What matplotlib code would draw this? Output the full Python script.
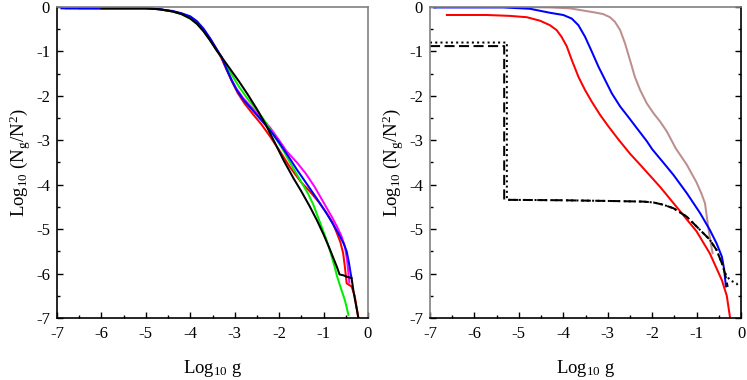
import matplotlib
matplotlib.use("Agg")
import matplotlib.pyplot as plt
from matplotlib.ticker import MultipleLocator

plt.rcParams['font.family'] = ['Liberation Serif', 'DejaVu Serif']
plt.rcParams['mathtext.fontset'] = 'custom'
plt.rcParams['mathtext.rm'] = 'Liberation Serif'
plt.rcParams['mathtext.it'] = 'Liberation Serif:italic'
plt.rcParams['axes.unicode_minus'] = False

# ---------------- Left panel data ----------------
L_magenta_x = [-6.5, -5.0, -4.7, -4.4, -4.2, -4.0, -3.85, -3.7, -3.55, -3.4, -3.3, -3.18, -3.07, -2.96, -2.81, -2.6, -2.4, -2.2, -2.0, -1.83, -1.6, -1.4, -1.2, -1.0, -0.8, -0.7, -0.6, -0.52, -0.47, -0.44, -0.42]
L_magenta_y = [-0.03, -0.03, -0.05, -0.1, -0.15, -0.23, -0.35, -0.51, -0.72, -0.96, -1.12, -1.4, -1.64, -1.84, -2.05, -2.28, -2.5, -2.72, -3.0, -3.25, -3.5, -3.75, -4.05, -4.4, -4.75, -4.94, -5.15, -5.39, -5.7, -6.0, -6.2]

L_red_x = [-6.8, -5.0, -4.7, -4.4, -4.2, -4.0, -3.85, -3.7, -3.55, -3.4, -3.3, -3.18, -3.05, -2.93, -2.78, -2.6, -2.4, -2.2, -2.0, -1.76, -1.5, -1.31, -1.1, -0.93, -0.8, -0.7, -0.62, -0.56, -0.52, -0.48, -0.37, -0.3, -0.22]
L_red_y = [-0.03, -0.03, -0.05, -0.1, -0.15, -0.23, -0.35, -0.52, -0.73, -0.97, -1.15, -1.42, -1.7, -1.94, -2.17, -2.4, -2.64, -2.92, -3.22, -3.6, -3.95, -4.15, -4.4, -4.64, -4.85, -5.09, -5.3, -5.54, -5.85, -6.22, -6.29, -6.5, -6.98]

L_green_x = [-6.2, -5.0, -4.7, -4.4, -4.2, -4.0, -3.85, -3.7, -3.55, -3.4, -3.3, -3.1, -2.9, -2.7, -2.5, -2.3, -2.1, -1.91, -1.7, -1.53, -1.35, -1.23, -1.08, -0.95, -0.85, -0.75, -0.7, -0.62, -0.52, -0.44]
L_green_y = [-0.03, -0.03, -0.05, -0.1, -0.16, -0.26, -0.38, -0.54, -0.75, -0.98, -1.12, -1.47, -1.8, -2.08, -2.32, -2.6, -2.92, -3.22, -3.6, -3.89, -4.2, -4.45, -4.85, -5.2, -5.5, -5.85, -6.05, -6.3, -6.6, -6.93]

L_blue_x = [-6.9, -5.0, -4.7, -4.4, -4.2, -4.0, -3.85, -3.7, -3.55, -3.4, -3.3, -3.18, -3.07, -2.96, -2.81, -2.6, -2.4, -2.2, -2.0, -1.8, -1.6, -1.4, -1.16, -0.93, -0.78, -0.67, -0.55, -0.48, -0.43, -0.39, -0.37]
L_blue_y = [-0.03, -0.03, -0.05, -0.09, -0.14, -0.21, -0.32, -0.49, -0.71, -0.96, -1.12, -1.4, -1.65, -1.86, -2.08, -2.32, -2.55, -2.78, -3.05, -3.35, -3.66, -3.95, -4.3, -4.65, -4.9, -5.09, -5.32, -5.5, -5.75, -6.0, -6.1]

L_black_x = [-6.0, -5.0, -4.7, -4.4, -4.2, -4.0, -3.85, -3.7, -3.55, -3.4, -3.3, -3.1, -2.9, -2.7, -2.5, -2.3, -2.1, -1.9, -1.68, -1.5, -1.31, -1.15, -1.0, -0.88, -0.78, -0.7, -0.64, -0.55, -0.48, -0.37, -0.32, -0.22]
L_black_y = [-0.03, -0.03, -0.05, -0.1, -0.16, -0.26, -0.38, -0.55, -0.76, -0.99, -1.12, -1.4, -1.68, -1.98, -2.3, -2.65, -3.05, -3.45, -3.85, -4.15, -4.49, -4.8, -5.12, -5.4, -5.65, -5.85, -6.02, -6.04, -6.07, -6.1, -6.44, -6.98]

# ---------------- Right panel data ----------------
R_brown_x = [-7.0, -5.0, -4.3, -3.85, -3.55, -3.25, -3.1, -2.95, -2.84, -2.72, -2.61, -2.5, -2.39, -2.27, -2.12, -1.97, -1.82, -1.67, -1.47, -1.22, -1.0, -0.89, -0.81, -0.74, -0.68, -0.64]
R_brown_y = [0.0, 0.0, -0.01, -0.03, -0.08, -0.13, -0.16, -0.23, -0.33, -0.52, -0.82, -1.19, -1.57, -1.87, -2.17, -2.39, -2.58, -2.8, -3.18, -3.55, -3.95, -4.2, -4.42, -4.94, -5.32, -5.54]

R_blue_x = [-6.9, -5.35, -4.75, -4.3, -4.0, -3.81, -3.66, -3.51, -3.36, -3.21, -3.06, -2.91, -2.72, -2.54, -2.35, -2.12, -2.0, -1.75, -1.52, -1.22, -0.92, -0.7, -0.55, -0.43, -0.38, -0.34]
R_blue_y = [-0.01, -0.01, -0.04, -0.13, -0.18, -0.26, -0.41, -0.67, -1.0, -1.34, -1.64, -1.94, -2.24, -2.47, -2.72, -3.02, -3.2, -3.5, -3.78, -4.19, -4.64, -5.02, -5.32, -5.62, -5.9, -6.29]

R_red_x = [-6.62, -5.72, -5.2, -4.82, -4.52, -4.3, -4.15, -4.04, -3.92, -3.81, -3.66, -3.51, -3.36, -3.17, -2.99, -2.76, -2.5, -2.27, -1.82, -1.45, -1.0, -0.7, -0.43, -0.32, -0.25]
R_red_y = [-0.18, -0.18, -0.2, -0.23, -0.31, -0.41, -0.52, -0.67, -0.89, -1.19, -1.57, -1.87, -2.13, -2.43, -2.68, -2.98, -3.3, -3.55, -4.05, -4.5, -5.05, -5.55, -6.15, -6.5, -6.97]

R_dash_x = [-7.0, -5.33, -5.33, -4.0, -2.72, -2.2, -1.97, -1.75, -1.52, -1.22, -0.92, -0.7, -0.55, -0.43, -0.36, -0.3]
R_dash_y = [-0.88, -0.88, -4.34, -4.35, -4.37, -4.38, -4.4, -4.45, -4.53, -4.72, -5.02, -5.24, -5.47, -5.77, -6.0, -6.3]

R_dot_x = [-7.0, -5.27, -5.27, -4.0, -2.72, -2.2, -1.97, -1.75, -1.52, -1.22, -0.92, -0.7, -0.55, -0.43, -0.35, -0.25, -0.1, -0.05]
R_dot_y = [-0.8, -0.8, -4.34, -4.35, -4.37, -4.38, -4.4, -4.45, -4.53, -4.72, -5.02, -5.24, -5.47, -5.77, -6.0, -6.15, -6.22, -6.3]

ticks = [-7, -6, -5, -4, -3, -2, -1, 0]
tick_labels = ['-7', '-6', '-5', '-4', '-3', '-2', '-1', '0']

xlabel = r'Log$_{10}$ g'
ylabel = r'Log$_{10}$ (N$_{\mathrm{g}}$/N$^{2}$)'

GRAY = '#808080'
LW = 1.45

fig = plt.figure(figsize=(7.47, 3.80), dpi=100)
W, H = 747.0, 380.0
axL = fig.add_axes([57 / W, (H - 318) / H, (368 - 57) / W, (318 - 7) / H])
axR = fig.add_axes([430 / W, (H - 318) / H, (741 - 430) / W, (318 - 7) / H])

axL.plot(L_magenta_x, L_magenta_y, color='#ff00ff', lw=LW)
axL.plot(L_red_x, L_red_y, color='#ff0000', lw=LW)
axL.plot(L_green_x, L_green_y, color='#00ee00', lw=LW)
axL.plot(L_blue_x, L_blue_y, color='#0000ff', lw=LW)
axL.plot(L_black_x, L_black_y, color='#000000', lw=LW)

axR.plot(R_brown_x, R_brown_y, color='#bc8f8f', lw=LW)
axR.plot(R_blue_x, R_blue_y, color='#0000ff', lw=LW)
axR.plot(R_red_x, R_red_y, color='#ff0000', lw=LW)
axR.plot(R_dash_x, R_dash_y, color='#000000', lw=LW, dashes=(5, 2.2))
axR.plot(R_dot_x, R_dot_y, color='#000000', lw=LW, dashes=(1, 1.6))

for ax in (axL, axR):
    ax.set_xlim(-7, 0)
    ax.set_ylim(-7, 0)
    ax.set_xticks(ticks)
    ax.set_xticklabels(tick_labels)
    ax.set_yticks(ticks)
    ax.set_yticklabels(tick_labels)
    ax.xaxis.set_minor_locator(MultipleLocator(0.5))
    ax.yaxis.set_minor_locator(MultipleLocator(0.5))
    ax.tick_params(which='both', direction='in', labelsize=12, top=False)
    ax.tick_params(which='major', length=4.5, width=1)
    ax.tick_params(which='minor', length=2.5, width=1)
    ax.tick_params(axis='x', pad=6)
    ax.tick_params(axis='y', pad=5)
    ax.set_xlabel(xlabel, fontsize=13.5, labelpad=11)
    ax.set_ylabel(ylabel, fontsize=13.5, labelpad=2)
    for s in ax.spines.values():
        s.set_linewidth(1.2)

axL.tick_params(which='both', right=False)
axL.spines['top'].set_color(GRAY)
axL.spines['right'].set_color(GRAY)

axR.tick_params(which='both', right=True)
axR.spines['top'].set_color(GRAY)
axR.spines['left'].set_color(GRAY)

fig.savefig('out.png', dpi=100)
